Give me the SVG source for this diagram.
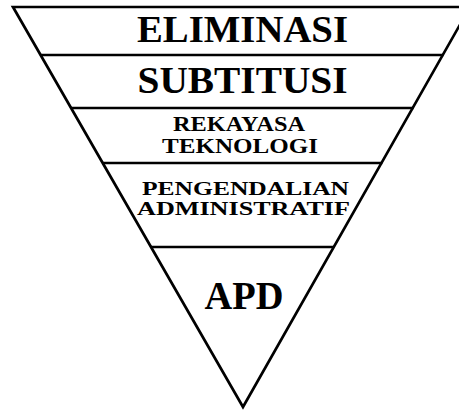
<svg xmlns="http://www.w3.org/2000/svg" width="459" height="410" viewBox="0 0 459 410">
<style>
.ln{stroke:#000;stroke-width:2.7;fill:none;stroke-linejoin:miter}
.t{font-family:"Liberation Serif","Times New Roman",serif;font-weight:bold;fill:#000;text-anchor:middle}
</style>
<rect width="459" height="410" fill="#fff"/>
<g id="connectors">
<polygon class="ln" points="13,7 470,7 243,407"/>
<line class="ln" x1="40.6" y1="55" x2="443.4" y2="55"/>
<line class="ln" x1="71.1" y1="108" x2="413.5" y2="108"/>
<line class="ln" x1="102.7" y1="163" x2="382.3" y2="163"/>
<line class="ln" x1="151" y1="247" x2="333.9" y2="247"/>
</g>
<g id="eliminasi"><text class="t" x="242.5" y="42" font-size="38.5" textLength="211" lengthAdjust="spacingAndGlyphs">ELIMINASI</text></g>
<g id="subtitusi"><text class="t" x="242.5" y="93" font-size="38" textLength="210" lengthAdjust="spacingAndGlyphs">SUBTITUSI</text></g>
<g id="rekayasa"><text class="t" x="239" y="131" font-size="20.5" textLength="132" lengthAdjust="spacingAndGlyphs">REKAYASA</text><text class="t" x="240" y="153" font-size="20.5" textLength="156" lengthAdjust="spacingAndGlyphs">TEKNOLOGI</text></g>
<g id="pengendalian"><text class="t" x="245.5" y="194.5" font-size="19.5" textLength="207" lengthAdjust="spacingAndGlyphs">PENGENDALIAN</text><text class="t" x="243.5" y="215" font-size="19.5" textLength="213" lengthAdjust="spacingAndGlyphs">ADMINISTRATIF</text></g>
<g id="apd"><text class="t" x="244" y="309" font-size="40" textLength="79" lengthAdjust="spacingAndGlyphs">APD</text></g>
</svg>
